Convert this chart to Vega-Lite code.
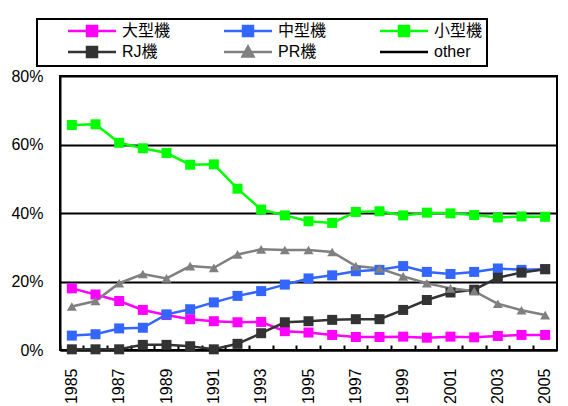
{
  "$schema": "https://vega.github.io/schema/vega-lite/v6.json",
  "width": 497,
  "height": 274,
  "autosize": "none",
  "padding": {"left": 60, "top": 76, "right": 11, "bottom": 56},
  "background": "white",
  "config": {
    "font": "Liberation Sans, Noto Sans CJK JP, sans-serif",
    "view": {"stroke": "black", "strokeWidth": 2}
  },
  "data": {
    "values": [
      {"year": 1985, "大型機": 18.0, "中型機": 4.2, "小型機": 65.7, "RJ機": 0.2, "PR機": 12.7},
      {"year": 1986, "大型機": 16.2, "中型機": 4.6, "小型機": 65.9, "RJ機": 0.2, "PR機": 14.3},
      {"year": 1987, "大型機": 14.3, "中型機": 6.3, "小型機": 60.5, "RJ機": 0.2, "PR機": 19.5},
      {"year": 1988, "大型機": 11.7, "中型機": 6.5, "小型機": 58.9, "RJ機": 1.5, "PR機": 22.2},
      {"year": 1989, "大型機": 10.2, "中型機": 10.4, "小型機": 57.5, "RJ機": 1.5, "PR機": 20.9},
      {"year": 1990, "大型機": 9.0, "中型機": 11.9, "小型機": 54.1, "RJ機": 1.1, "PR機": 24.5},
      {"year": 1991, "大型機": 8.4, "中型機": 13.9, "小型機": 54.2, "RJ機": 0.2, "PR機": 24.0},
      {"year": 1992, "大型機": 8.1, "中型機": 15.8, "小型機": 47.1, "RJ機": 1.8, "PR機": 27.9},
      {"year": 1993, "大型機": 8.2, "中型機": 17.2, "小型機": 41.0, "RJ機": 4.9, "PR機": 29.4},
      {"year": 1994, "大型機": 5.5, "中型機": 19.1, "小型機": 39.3, "RJ機": 8.1, "PR機": 29.2},
      {"year": 1995, "大型機": 5.1, "中型機": 20.9, "小型機": 37.6, "RJ機": 8.4, "PR機": 29.2},
      {"year": 1996, "大型機": 4.4, "中型機": 21.8, "小型機": 37.1, "RJ機": 8.8, "PR機": 28.6},
      {"year": 1997, "大型機": 3.8, "中型機": 23.0, "小型機": 40.3, "RJ機": 9.0, "PR機": 24.5},
      {"year": 1998, "大型機": 3.8, "中型機": 23.4, "小型機": 40.5, "RJ機": 9.0, "PR機": 23.8},
      {"year": 1999, "大型機": 3.9, "中型機": 24.5, "小型機": 39.3, "RJ機": 11.7, "PR機": 21.5},
      {"year": 2000, "大型機": 3.6, "中型機": 22.8, "小型機": 40.1, "RJ機": 14.6, "PR機": 19.5},
      {"year": 2001, "大型機": 3.9, "中型機": 22.2, "小型機": 39.9, "RJ機": 16.8, "PR機": 18.0},
      {"year": 2002, "大型機": 3.7, "中型機": 22.8, "小型機": 39.4, "RJ機": 17.6, "PR機": 17.2},
      {"year": 2003, "大型機": 4.1, "中型機": 23.8, "小型機": 38.7, "RJ機": 21.1, "PR機": 13.5},
      {"year": 2004, "大型機": 4.4, "中型機": 23.4, "小型機": 39.0, "RJ機": 22.6, "PR機": 11.6},
      {"year": 2005, "大型機": 4.4, "中型機": 23.6, "小型機": 38.9, "RJ機": 23.6, "PR機": 10.2}
    ]
  },
  "transform": [
    {"fold": ["大型機", "中型機", "小型機", "RJ機", "PR機"], "as": ["series", "value"]}
  ],
  "encoding": {
    "x": {
      "field": "year",
      "type": "ordinal",
      "scale": {"type": "band", "paddingInner": 0, "paddingOuter": 0},
      "axis": {
        "title": null,
        "labelAngle": 270,
        "labelAlign": "right",
        "labelBaseline": "middle",
        "labelFontSize": 16,
        "labelColor": "black",
        "labelExpr": "datum.value % 2 == 1 ? datum.label : ''",
        "bandPosition": 0,
        "tickSize": -5,
        "tickColor": "black",
        "tickWidth": 2,
        "domainColor": "black",
        "domainWidth": 2,
        "labelPadding": 23,
        "grid": false
      }
    },
    "y": {
      "field": "value",
      "type": "quantitative",
      "scale": {"domain": [0, 80]},
      "axis": {
        "values": [0, 20, 40, 60, 80],
        "labelExpr": "datum.value + '%'",
        "title": null,
        "ticks": false,
        "labelPadding": 17,
        "labelFontSize": 16,
        "labelColor": "black",
        "grid": true,
        "gridColor": "black",
        "gridWidth": 2,
        "gridOpacity": 1,
        "domainColor": "black",
        "domainWidth": 2
      }
    },
    "color": {
      "field": "series",
      "type": "nominal",
      "scale": {
        "domain": ["大型機", "中型機", "小型機", "RJ機", "PR機", "other"],
        "range": ["#FF00FF", "#3366FF", "#00FF00", "#333333", "#808080", "#000000"]
      },
      "legend": {
        "orient": "none",
        "legendX": -23,
        "legendY": -57,
        "direction": "horizontal",
        "columns": 3,
        "title": "00",
        "titleOrient": "left",
        "titlePadding": 26,
        "titleFontSize": 15,
        "titleColor": "white",
        "strokeColor": "black",
        "padding": 4,
        "labelFontSize": 16,
        "labelColor": "black",
        "symbolSize": 100,
        "labelOffset": 22,
        "columnPadding": 48,
        "rowPadding": 0,
        "encode": {
          "legend": {"update": {"strokeWidth": {"value": 2}}},
          "symbols": {
            "update": {
              "shape": {"signal": "datum.value === 'PR機' ? 'M-4.8,0H4.8M0,-1.1L1.1,0.9H-1.1Z' : datum.value === 'other' ? 'M-4.8,0H4.8' : 'M-4.8,0H4.8M-1,-1H1V1H-1Z'"},
              "stroke": {"scale": "color", "field": "value"},
              "fill": {"scale": "color", "field": "value"},
              "strokeWidth": {"value": 2.5},
              "opacity": {"value": 1}
            }
          }
        }
      }
    }
  },
  "layer": [
    {"mark": {"type": "line", "strokeWidth": 2.5}},
    {
      "mark": {"type": "point", "filled": true, "opacity": 1, "size": 100},
      "encoding": {
        "shape": {
          "field": "series",
          "type": "nominal",
          "scale": {
            "domain": ["大型機", "中型機", "小型機", "RJ機", "PR機"],
            "range": ["square", "square", "square", "square", "triangle-up"]
          },
          "legend": null
        }
      }
    }
  ]
}
